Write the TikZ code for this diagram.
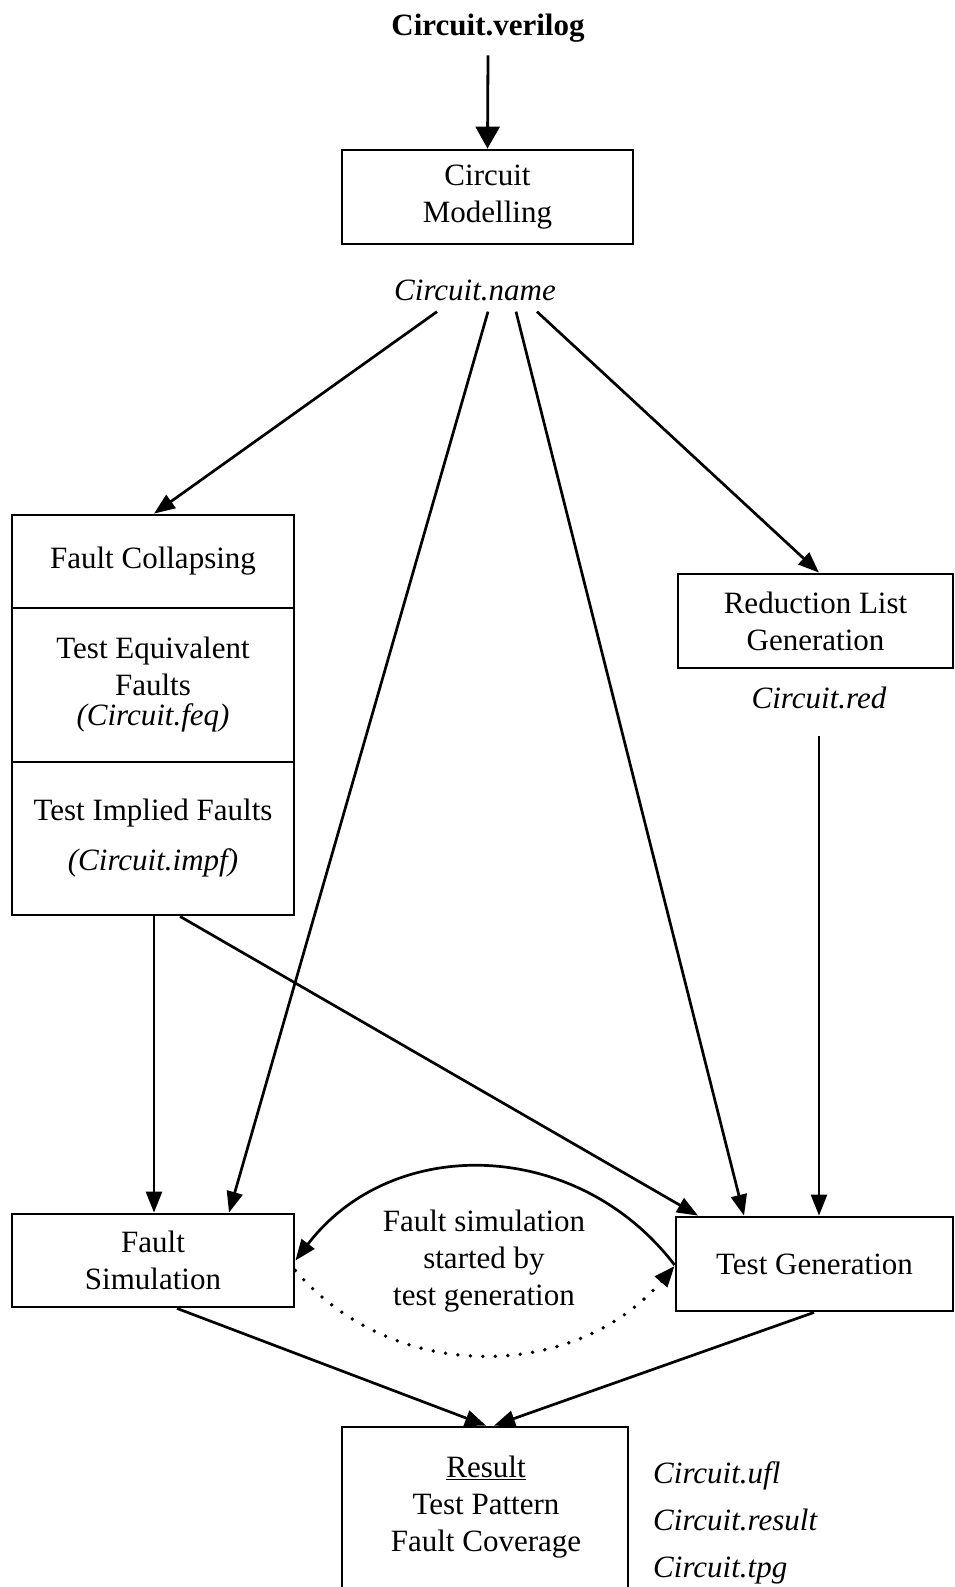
\documentclass[tikz,border=0pt]{standalone}
\usepackage{fontspec}
\setmainfont{Liberation Serif}
\usetikzlibrary{arrows.meta}
\newcommand{\bigf}{\fontsize{31}{37}\selectfont}
\begin{document}
\begin{tikzpicture}[x=1pt,y=-1pt,
  box/.style={draw,line width=2.8pt,align=center,inner sep=0pt},
  lbl/.style={align=center,inner sep=0pt},
  itl/.style={lbl,font=\bigf\itshape},
  arr/.style={line width=2.7pt,-{Triangle[length=21pt,width=16pt]}},
  dotline/.style={dash pattern=on 0pt off 12.5pt,line cap=round,line width=3.8pt},
  font=\bigf]
\useasboundingbox (0,0) rectangle (955,1587);

% nodes
\node[lbl,font=\bigf\bfseries] (ver) at (488,28) {Circuit.verilog};
\node[box,minimum width=291pt,minimum height=94pt] (cm) at (487.5,197) {Circuit\\Modelling};
\node[itl] (nm) at (475,290) {Circuit.name};

\node[box,minimum width=282pt,minimum height=93pt] (fc1) at (153,561.5) {Fault Collapsing};
\node[box,minimum width=282pt,minimum height=154pt] (fc2) at (153,685) {Test Equivalent\\Faults\\[-7pt]\textit{(Circuit.feq)}};
\node[box,minimum width=282pt,minimum height=153pt] (fc3) at (153,838.5) {Test Implied Faults\\[13pt]\textit{(Circuit.impf)}};

\node[box,minimum width=275pt,minimum height=94pt] (rl) at (815.5,621) {Reduction List\\Generation};
\node[itl] (red) at (819,698) {Circuit.red};

\node[box,minimum width=282pt,minimum height=93pt] (fs) at (153,1260.5) {Fault\\Simulation};
\node[box,minimum width=277pt,minimum height=94pt] (tg) at (814.5,1264) {Test Generation};
\node[lbl] (mid) at (484,1261) {Fault simulation\\started by\\test generation};

\node[box,minimum width=286pt,minimum height=200pt] (res) at (485,1527) {};
\node[lbl] (restxt) at (486,1507) {\underline{Result}\\Test Pattern\\Fault Coverage};
\node[itl,anchor=base west] (ufl) at (653,1483) {Circuit.ufl};
\node[itl,anchor=base west] (rsl) at (653,1530) {Circuit.result};
\node[itl,anchor=base west] (tpg) at (653,1577) {Circuit.tpg};

% connectors
\draw[line width=2.8pt,-{Triangle[length=22pt,width=24pt]}] ([yshift=-13pt]ver.south) -- (cm.north);
\draw[arr] ([xshift=-38pt,yshift=-11pt]nm.south) -- ([xshift=1pt]fc1.north);
\draw[arr] ([xshift=13pt,yshift=-11pt]nm.south) -- ([xshift=76pt]fs.north);
\draw[arr] ([xshift=41pt,yshift=-11pt]nm.south) -- ([xshift=-70.5pt]tg.north);
\draw[arr] ([xshift=62pt,yshift=-11pt]nm.south) -- ([xshift=3.5pt]rl.north);
\draw[arr] ([xshift=1pt]fc3.south) -- ([xshift=1pt]fs.north);
\draw[arr] ([xshift=27pt]fc3.south) -- ([xshift=-116.5pt]tg.north);
\draw[arr] ([yshift=-27pt]red.south) -- ([xshift=4.5pt]tg.north);
\draw[arr] ([xshift=24pt]fs.south) -- ([xshift=1pt]res.north);
\draw[arr] ([xshift=-0.5pt]tg.south) -- ([xshift=9pt]res.north);
\draw[arr] ([yshift=-1pt]tg.west) .. controls +(-97,-127) and +(97,-127) .. (fs.east);
\draw[arr,dotline] ([yshift=-10pt]fs.east) .. controls +(99,115) and +(-99,115) .. ([yshift=-2pt]tg.west);
\end{tikzpicture}
\end{document}
